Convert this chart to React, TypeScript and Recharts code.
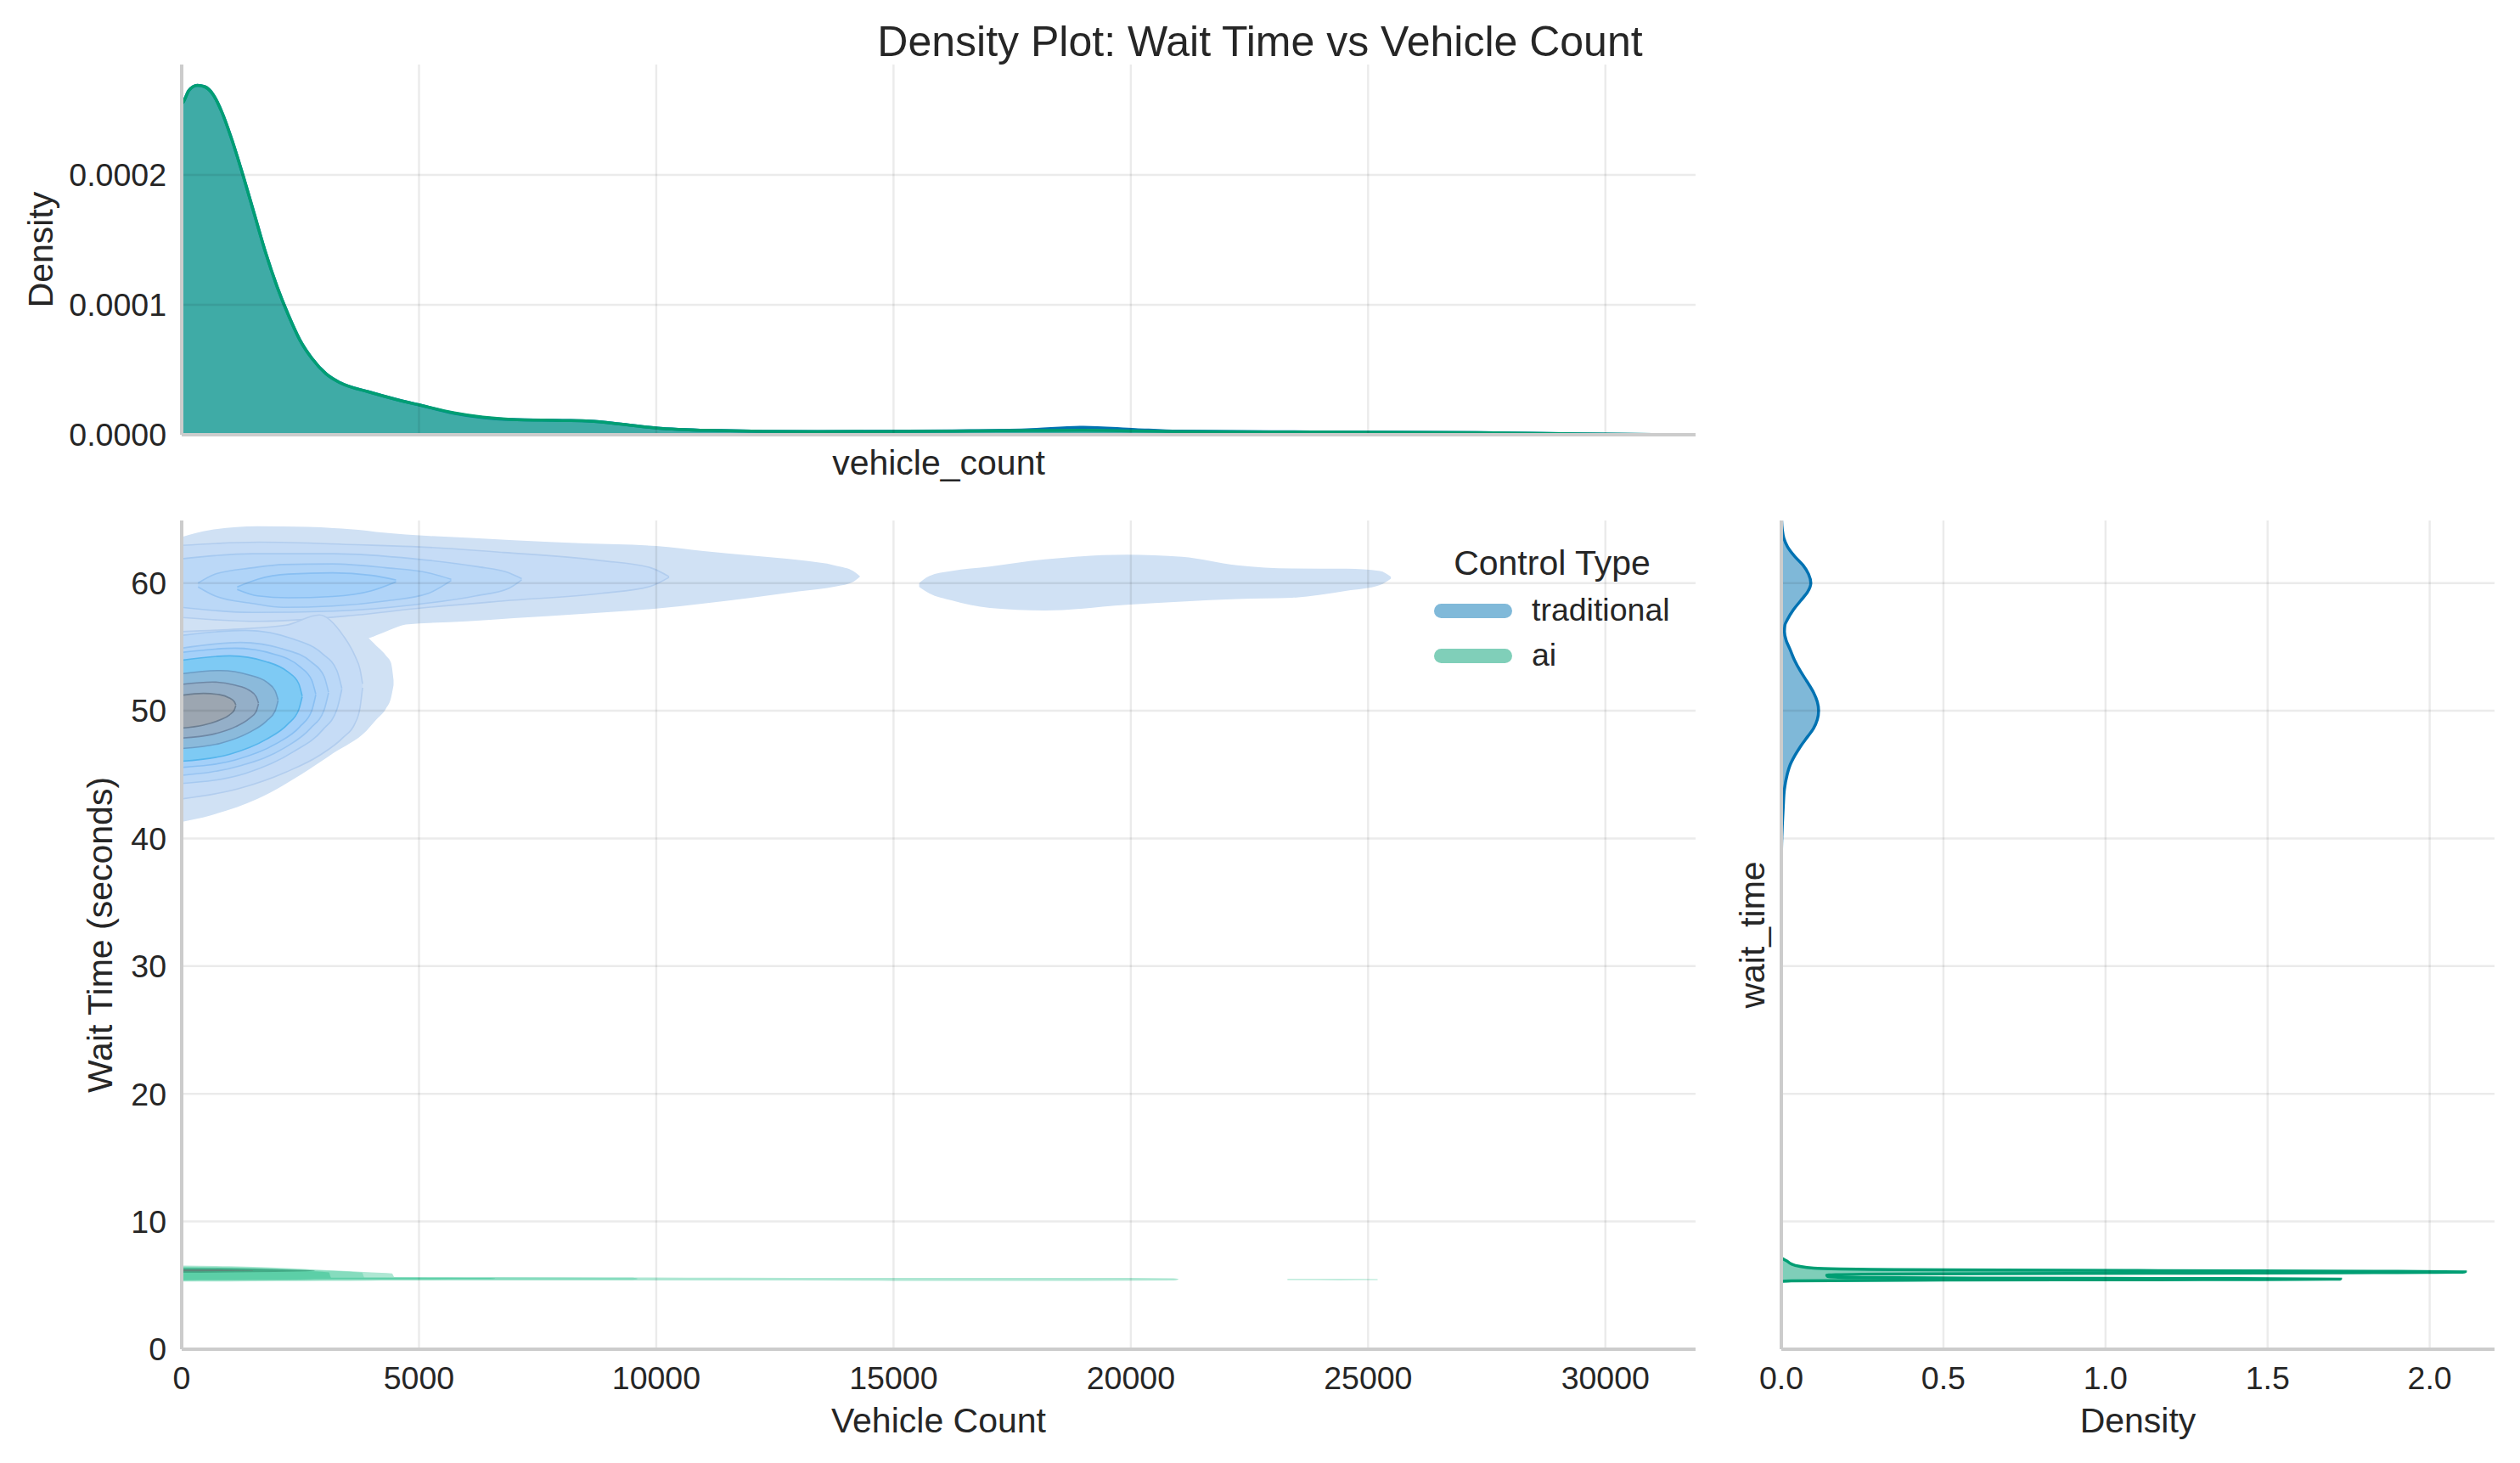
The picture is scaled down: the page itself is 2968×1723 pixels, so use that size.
import React from "react";
import { ComposedChart, Area, XAxis, YAxis, ReferenceLine } from "recharts";

const FONT = '"Liberation Sans", Arial, Helvetica, sans-serif';
const TEXT = "#262626";
const SPINE = "#cccccc";
const GRID = "rgba(0, 0, 0, 0.08)";

const chartTitle = "Density Plot: Wait Time vs Vehicle Count";
const controlTypes = ["traditional", "ai"];
const lineColors: Record<string, string> = { traditional: "#0072B2", ai: "#009E73" };
const patchColors: Record<string, string> = { traditional: "#80b9d9", ai: "#80cfb9" };

const vehicleTicks = [0, 5000, 10000, 15000, 20000, 25000, 30000];
const waitTicks = [0, 10, 20, 30, 40, 50, 60];
const topDensityTicks = [0, 0.0001, 0.0002];
const sideDensityTicks = [0, 0.5, 1, 1.5, 2];

const VEHICLE_MAX = 31900;
const WAIT_MAX = 64.9;
const TOP_DENSITY_MAX = 0.000285;
const SIDE_DENSITY_MAX = 2.2;

// top marginal: [vehicle_count, density]
const topTraditional: [number, number][] = [
  [0, 2.55e-4], [30, 2.56e-4], [150, 2.65e-4], [330, 2.69e-4], [480, 2.68e-4],
  [660, 2.62e-4], [840, 2.49e-4], [1050, 2.28e-4], [1290, 2.0e-4], [1530, 1.7e-4],
  [1770, 1.4e-4], [2010, 1.14e-4], [2250, 0.92e-4], [2490, 0.73e-4], [2740, 0.59e-4],
  [3040, 0.47e-4], [3340, 0.4e-4], [3940, 0.33e-4], [4540, 0.27e-4], [5000, 0.23e-4],
  [5740, 0.165e-4], [6340, 0.132e-4], [6940, 0.117e-4], [8020, 0.11e-4], [8600, 0.105e-4],
  [9300, 0.08e-4], [9980, 0.053e-4], [11100, 0.034e-4], [13400, 0.024e-4], [16200, 0.03e-4],
  [17800, 0.038e-4], [19000, 0.058e-4], [20100, 0.04e-4], [21000, 0.027e-4], [23800, 0.022e-4],
  [27300, 0.017e-4], [29400, 0.006e-4], [31000, 0.001e-4], [31900, 0],
];
const topAi: [number, number][] = [
  [0, 2.55e-4], [30, 2.56e-4], [150, 2.65e-4], [330, 2.69e-4], [480, 2.68e-4],
  [660, 2.62e-4], [840, 2.49e-4], [1050, 2.28e-4], [1290, 2.0e-4], [1530, 1.7e-4],
  [1770, 1.4e-4], [2010, 1.14e-4], [2250, 0.92e-4], [2490, 0.73e-4], [2740, 0.59e-4],
  [3040, 0.47e-4], [3340, 0.4e-4], [3940, 0.33e-4], [4540, 0.27e-4], [5000, 0.23e-4],
  [5740, 0.168e-4], [6340, 0.135e-4], [6940, 0.118e-4], [8020, 0.11e-4], [8600, 0.105e-4],
  [9300, 0.08e-4], [9980, 0.053e-4], [11100, 0.034e-4], [13400, 0.024e-4], [16200, 0.028e-4],
  [17800, 0.032e-4], [19000, 0.035e-4], [20100, 0.03e-4], [21000, 0.025e-4], [23800, 0.021e-4],
  [27300, 0.016e-4], [29400, 0.006e-4], [31000, 0.001e-4], [31900, 0],
];

// right marginal: [wait_time, density]
const sideTraditional: [number, number][] = [
  [38.2, 0], [40.0, 0.0015], [41.0, 0.003], [42.5, 0.006], [43.85, 0.0096], [45.0, 0.018],
  [45.75, 0.027], [46.5, 0.042], [47.2, 0.059], [48.0, 0.082], [48.6, 0.099], [49.3, 0.111],
  [50.0, 0.115], [50.7, 0.111], [51.45, 0.099], [52.3, 0.079], [53.1, 0.059], [54.0, 0.04],
  [54.8, 0.027], [55.5, 0.015], [56.2, 0.0096], [56.7, 0.011], [57.15, 0.019], [57.9, 0.037],
  [58.6, 0.059], [59.3, 0.081], [60.0, 0.091], [60.7, 0.084], [61.4, 0.067], [62.1, 0.041],
  [62.85, 0.019], [63.5, 0.008], [64.2, 0.003], [64.9, 0.001],
];
const sideAi: [number, number][] = [
  [5.3, 0], [5.36, 0.03], [5.41, 0.4], [5.45, 1.3], [5.49, 1.725], [5.53, 1.4], [5.57, 0.6],
  [5.62, 0.2], [5.7, 0.143], [5.8, 0.14], [5.87, 0.25], [5.93, 0.9], [5.99, 1.7], [6.05, 2.11],
  [6.1, 1.9], [6.16, 1.1], [6.24, 0.35], [6.35, 0.1], [6.5, 0.055], [6.69, 0.03], [6.9, 0.018],
  [7.06, 0.006], [7.15, 0],
];

// 2D KDE contour bands: [vehicle_count, wait_low, wait_high]
const tradLevel1Arm: [number, number, number][] = [
  [0, 55.5, 63.6], [600, 55.5, 64.15], [1600, 55.5, 64.45], [2660, 55.5, 64.4], [3200, 55.5, 64.3],
  [3900, 55.64, 64.1], [4100, 55.9, 64.0], [4400, 56.35, 63.9], [4722, 56.75, 63.8],
  [6000, 57.0, 63.55], [7000, 57.25, 63.35], [8500, 57.6, 63.1], [10000, 58.0, 62.9], [11000, 58.4, 62.5],
  [12000, 58.85, 62.15], [13000, 59.35, 61.8], [13800, 59.75, 61.35], [14150, 60.1, 60.95], [14290, 60.5, 60.55],
];
const tradLevel1Core: [number, number, number][] = [
  [0, 41.3, 57.0], [600, 41.8, 57.0], [1600, 43.1, 57.0], [2660, 45.35, 57.0], [3200, 46.7, 56.8],
  [3897, 48.45, 55.8], [4100, 49.3, 55.1], [4310, 50.2, 54.3], [4410, 51.0, 53.76], [4464, 52.0, 52.4],
];
const tradLevel1Far: [number, number, number][] = [
  [15540, 59.7, 60.0], [15750, 59.2, 60.55], [16220, 58.65, 60.95], [17030, 58.05, 61.3],
  [18190, 57.85, 61.85], [19920, 58.3, 62.23], [21080, 58.55, 62.06], [22240, 58.75, 61.4],
  [23400, 58.85, 61.15], [24550, 59.4, 61.13], [25250, 59.85, 60.95], [25480, 60.35, 60.5],
];
const tradLevel2Arm: [number, number, number][] = [
  [0, 57.3, 62.95], [1630, 57.0, 63.2], [3690, 57.5, 63.0], [4930, 58.0, 62.85],
  [6780, 58.6, 62.4], [8850, 59.2, 61.75], [9880, 59.75, 61.2], [10270, 60.45, 60.5],
];
const tradLevel2Core: [number, number, number][] = [
  [0, 43.1, 56.2], [1200, 43.9, 56.4], [2200, 45.2, 56.7], [2900, 46.5, 57.5],
  [3400, 47.9, 55.9], [3650, 49.0, 54.3], [3760, 50.3, 53.2], [3811, 51.8, 52.1],
];
const tradLevel3Arm: [number, number, number][] = [
  [0, 58.1, 61.9], [1500, 57.7, 62.3], [3200, 57.8, 62.3], [4900, 58.3, 61.9],
  [6200, 59.0, 61.3], [6900, 59.6, 60.8], [7165, 60.25, 60.35],
];
const tradLevel3Core: [number, number, number][] = [
  [0, 44.3, 55.9], [1350, 45.1, 56.3], [2360, 46.8, 55.6], [2970, 48.5, 54.45],
  [3270, 50.1, 53.15], [3375, 51.7, 51.75],
];
const tradLevel4Arm: [number, number, number][] = [
  [345, 59.7, 60.0], [700, 59.0, 60.7], [1500, 58.4, 61.2], [2140, 58.1, 61.45],
  [3175, 58.2, 61.5], [4300, 58.6, 61.2], [5200, 59.2, 60.8], [5680, 60.2, 60.3],
];
const tradLevel4Core: [number, number, number][] = [
  [0, 44.94, 54.9], [1240, 45.7, 55.35], [2170, 47.1, 54.8], [2720, 48.65, 53.85],
  [3000, 50.05, 52.7], [3094, 51.4, 51.45],
];
const tradLevel5Arm: [number, number, number][] = [
  [1170, 59.5, 59.7], [1600, 59.0, 60.3], [2250, 58.85, 60.7], [3175, 58.95, 60.8],
  [4000, 59.4, 60.6], [4516, 60.1, 60.25],
];
const tradLevel5Core: [number, number, number][] = [
  [0, 45.56, 54.57], [1130, 46.15, 54.9], [1980, 47.4, 54.4], [2490, 48.75, 53.45],
  [2740, 50.0, 52.4], [2826, 51.25, 51.3],
];
const tradLevel6: [number, number, number][] = [
  [0, 46.05, 53.95], [1016, 46.6, 54.3], [1777, 47.75, 53.85], [2234, 48.95, 53.05],
  [2463, 50.05, 52.15], [2539, 51.1, 51.15],
];
const tradLevel7: [number, number, number][] = [
  [0, 47.05, 52.9], [812, 47.45, 53.15], [1422, 48.3, 52.8], [1787, 49.2, 52.25],
  [1970, 50.0, 51.55], [2031, 50.8, 50.85],
];
const tradLevel8: [number, number, number][] = [
  [0, 47.86, 52.07], [648, 48.15, 52.25], [1133, 48.75, 52.0], [1425, 49.4, 51.6],
  [1570, 49.95, 51.1], [1619, 50.55, 50.6],
];
const tradLevel9: [number, number, number][] = [
  [0, 48.64, 51.21], [456, 48.87, 51.36], [799, 49.27, 51.26], [1004, 49.67, 51.0],
  [1107, 50.05, 50.72], [1141, 50.4, 50.45],
];

const aiLevel1: [number, number, number][] = [
  [0, 5.3, 6.55], [1000, 5.3, 6.5], [2000, 5.33, 6.38], [3000, 5.35, 6.2], [4000, 5.37, 6.02],
  [4430, 5.38, 5.93], [4480, 5.38, 5.66], [8000, 5.38, 5.64], [11500, 5.38, 5.6],
  [15000, 5.36, 5.58], [19000, 5.36, 5.58], [20900, 5.38, 5.56], [21000, 5.45, 5.5],
];
const aiLevel1Far: [number, number, number][] = [
  [23300, 5.42, 5.5], [24400, 5.41, 5.5], [25200, 5.42, 5.48],
];
const aiLevel2: [number, number, number][] = [
  [0, 5.36, 6.46], [1500, 5.38, 6.38], [2800, 5.4, 6.18], [3800, 5.42, 6.0],
  [3850, 5.42, 5.62], [6000, 5.43, 5.61], [9500, 5.44, 5.6], [9600, 5.48, 5.55],
];
const aiLevel3: [number, number, number][] = [
  [0, 5.4, 6.4], [1500, 5.43, 6.32], [2500, 5.46, 6.15], [3100, 5.48, 6.02],
  [3150, 5.48, 5.6], [6500, 5.5, 5.58], [6600, 5.52, 5.55],
];
const aiLevel4: [number, number, number][] = [
  [0, 5.98, 6.34], [1500, 6.03, 6.3], [2400, 6.08, 6.22], [2800, 6.14, 6.17],
];
const aiLevel5: [number, number, number][] = [
  [0, 6.1, 6.24], [900, 6.12, 6.22], [1500, 6.15, 6.18],
];

const tradFills = ["#d0e1f4", "#c6dcf6", "#bbd8f7", "#b0d4f8", "#a4d0f9", "#7ecaf4", "#8bbadb", "#94afc8", "#9ca6b1"];
const tradStrokes = ["none", "#b2cdee", "#a6c9f0", "#98c4f1", "#89bff2", "#55b5ec", "#6b9dc6", "#6e88a6", "#6b7e92"];
const aiFills = ["#aee7d3", "#86dcbe", "#5ccfa7", "#43aa86", "#5e8579"];

const contourLayers = [
  { id: "t1a", pts: tradLevel1Arm, fill: tradFills[0], stroke: tradStrokes[0] },
  { id: "t1c", pts: tradLevel1Core, fill: tradFills[0], stroke: tradStrokes[0] },
  { id: "t1f", pts: tradLevel1Far, fill: tradFills[0], stroke: tradStrokes[0] },
  { id: "t2a", pts: tradLevel2Arm, fill: tradFills[1], stroke: tradStrokes[1] },
  { id: "t2c", pts: tradLevel2Core, fill: tradFills[1], stroke: tradStrokes[1] },
  { id: "t3a", pts: tradLevel3Arm, fill: tradFills[2], stroke: tradStrokes[2] },
  { id: "t3c", pts: tradLevel3Core, fill: tradFills[2], stroke: tradStrokes[2] },
  { id: "t4a", pts: tradLevel4Arm, fill: tradFills[3], stroke: tradStrokes[3] },
  { id: "t4c", pts: tradLevel4Core, fill: tradFills[3], stroke: tradStrokes[3] },
  { id: "t5a", pts: tradLevel5Arm, fill: tradFills[4], stroke: tradStrokes[4] },
  { id: "t5c", pts: tradLevel5Core, fill: tradFills[4], stroke: tradStrokes[4] },
  { id: "t6", pts: tradLevel6, fill: tradFills[5], stroke: tradStrokes[5] },
  { id: "t7", pts: tradLevel7, fill: tradFills[6], stroke: tradStrokes[6] },
  { id: "t8", pts: tradLevel8, fill: tradFills[7], stroke: tradStrokes[7] },
  { id: "t9", pts: tradLevel9, fill: tradFills[8], stroke: tradStrokes[8] },
  { id: "a1", pts: aiLevel1, fill: aiFills[0], stroke: "none" },
  { id: "a1f", pts: aiLevel1Far, fill: aiFills[0], stroke: "none" },
  { id: "a2", pts: aiLevel2, fill: aiFills[1], stroke: "none" },
  { id: "a3", pts: aiLevel3, fill: aiFills[2], stroke: "none" },
  { id: "a4", pts: aiLevel4, fill: aiFills[3], stroke: "none" },
  { id: "a5", pts: aiLevel5, fill: aiFills[4], stroke: "none" },
];

const toRange = (pts: [number, number, number][]) => pts.map(([x, lo, hi]) => ({ x, r: [lo, hi] }));
const toTop = (pts: [number, number][]) => pts.map(([x, d]) => ({ x, d }));
const toSide = (pts: [number, number][]) => pts.map(([w, d]) => ({ w, d }));

const tickStyle = { fill: TEXT, fontSize: 37.5, fontFamily: FONT };
const spine = { stroke: SPINE, strokeWidth: 4 };
const labelStyle = { fill: TEXT, fontSize: 41, fontFamily: FONT };
const vLabelStyle = { textAnchor: "middle" as const, fill: TEXT, fontSize: 41, fontFamily: FONT };

function gridX(values: number[]) {
  return values.map((v) => (
    <ReferenceLine key={`gx${v}`} x={v} stroke={GRID} strokeWidth={2.5} />
  ));
}
function gridY(values: number[]) {
  return values.map((v) => (
    <ReferenceLine key={`gy${v}`} y={v} stroke={GRID} strokeWidth={2.5} />
  ));
}

export default function App() {
  return (
    <div
      style={{
        position: "absolute",
        left: 0,
        top: 0,
        width: 2968,
        height: 1723,
        background: "#ffffff",
        fontFamily: FONT,
        color: TEXT,
        overflow: "hidden",
      }}
    >
      <div
        style={{
          position: "absolute",
          left: 0,
          top: 24,
          width: 2968,
          textAlign: "center",
          fontSize: 50,
          lineHeight: "50px",
        }}
      >
        {chartTitle}
      </div>

      {/* top marginal */}
      <div style={{ position: "absolute", left: 0, top: 0 }}>
        <ComposedChart width={2010} height={600} margin={{ top: 76, right: 13, bottom: 28, left: 30 }}>
          <XAxis
            type="number"
            dataKey="x"
            domain={[0, VEHICLE_MAX]}
            ticks={vehicleTicks}
            allowDataOverflow
            height={60}
            tick={false}
            tickLine={false}
            axisLine={spine}
            label={{ value: "vehicle_count", position: "insideTop", offset: 18, ...labelStyle }}
          />
          <YAxis
            type="number"
            domain={[0, TOP_DENSITY_MAX]}
            ticks={topDensityTicks}
            allowDataOverflow
            width={184}
            tickLine={false}
            tickSize={0}
            tickMargin={18}
            tick={tickStyle}
            tickFormatter={(v: number) => v.toFixed(4)}
            axisLine={spine}
            label={{ value: "Density", angle: -90, position: "insideLeft", offset: 17, style: vLabelStyle }}
          />
          {gridX(vehicleTicks.slice(1))}
          {gridY(topDensityTicks.slice(1))}
          <Area
            data={toTop(topTraditional)}
            dataKey="d"
            type="monotone"
            fill={lineColors.traditional}
            fillOpacity={0.5}
            stroke={lineColors.traditional}
            strokeWidth={3.5}
            dot={false}
            activeDot={false}
            isAnimationActive={false}
          />
          <Area
            data={toTop(topAi)}
            dataKey="d"
            type="monotone"
            fill={lineColors.ai}
            fillOpacity={0.5}
            stroke={lineColors.ai}
            strokeWidth={3.5}
            dot={false}
            activeDot={false}
            isAnimationActive={false}
          />
        </ComposedChart>
      </div>

      {/* joint 2D density */}
      <div style={{ position: "absolute", left: 0, top: 560 }}>
        <ComposedChart width={2010} height={1163} margin={{ top: 53, right: 13, bottom: 54, left: 30 }}>
          {contourLayers.map((l) => (
            <Area
              key={l.id}
              data={toRange(l.pts)}
              dataKey="r"
              type="monotone"
              fill={l.fill}
              fillOpacity={1}
              stroke={l.stroke}
              strokeWidth={1.6}
              dot={false}
              activeDot={false}
              legendType="none"
              isAnimationActive={false}
            />
          ))}
          {gridX(vehicleTicks.slice(1))}
          {gridY(waitTicks.slice(1))}
          <XAxis
            type="number"
            dataKey="x"
            domain={[0, VEHICLE_MAX]}
            ticks={vehicleTicks}
            allowDataOverflow
            height={80}
            tickLine={false}
            tickSize={0}
            tickMargin={20}
            tick={tickStyle}
            axisLine={spine}
            label={{ value: "Vehicle Count", position: "insideTop", offset: 69, ...labelStyle }}
          />
          <YAxis
            type="number"
            domain={[0, WAIT_MAX]}
            ticks={waitTicks}
            allowDataOverflow
            width={184}
            tickLine={false}
            tickSize={0}
            tickMargin={18}
            tick={tickStyle}
            axisLine={spine}
            label={{ value: "Wait Time (seconds)", angle: -90, position: "insideLeft", offset: 87, style: vLabelStyle }}
          />
        </ComposedChart>
      </div>

      {/* right marginal */}
      <div style={{ position: "absolute", left: 2010, top: 560 }}>
        <ComposedChart
          layout="vertical"
          width={958}
          height={1163}
          margin={{ top: 53, right: 30, bottom: 54, left: 28 }}
        >
          <XAxis
            type="number"
            domain={[0, SIDE_DENSITY_MAX]}
            ticks={sideDensityTicks}
            allowDataOverflow
            height={80}
            tickLine={false}
            tickSize={0}
            tickMargin={20}
            tick={tickStyle}
            tickFormatter={(v: number) => v.toFixed(1)}
            axisLine={spine}
            label={{ value: "Density", position: "insideTop", offset: 69, ...labelStyle }}
          />
          <YAxis
            type="number"
            dataKey="w"
            domain={[0, WAIT_MAX]}
            ticks={waitTicks}
            allowDataOverflow
            reversed
            width={60}
            tick={false}
            tickLine={false}
            axisLine={spine}
            label={{ value: "wait_time", angle: -90, position: "insideLeft", offset: 25, style: vLabelStyle }}
          />
          {gridX(sideDensityTicks.slice(1))}
          {gridY(waitTicks.slice(1))}
          <Area
            data={toSide(sideTraditional)}
            dataKey="d"
            type="monotone"
            fill={lineColors.traditional}
            fillOpacity={0.5}
            stroke={lineColors.traditional}
            strokeWidth={3.5}
            dot={false}
            activeDot={false}
            isAnimationActive={false}
          />
          <Area
            data={toSide(sideAi)}
            dataKey="d"
            type="monotone"
            fill={lineColors.ai}
            fillOpacity={0.5}
            stroke={lineColors.ai}
            strokeWidth={3.5}
            dot={false}
            activeDot={false}
            isAnimationActive={false}
          />
        </ComposedChart>
      </div>

      {/* legend */}
      <div
        style={{
          position: "absolute",
          left: 1628,
          top: 643,
          width: 400,
          textAlign: "center",
          fontSize: 41,
          lineHeight: "41px",
        }}
      >
        Control Type
      </div>
      {controlTypes.map((name, i) => (
        <React.Fragment key={name}>
          <div
            style={{
              position: "absolute",
              left: 1689,
              top: 710.5 + i * 53,
              width: 92,
              height: 17,
              borderRadius: 8.5,
              background: patchColors[name],
            }}
          />
          <div
            style={{
              position: "absolute",
              left: 1804,
              top: 700 + i * 53,
              fontSize: 37.5,
              lineHeight: "37.5px",
              whiteSpace: "nowrap",
            }}
          >
            {name}
          </div>
        </React.Fragment>
      ))}
    </div>
  );
}
